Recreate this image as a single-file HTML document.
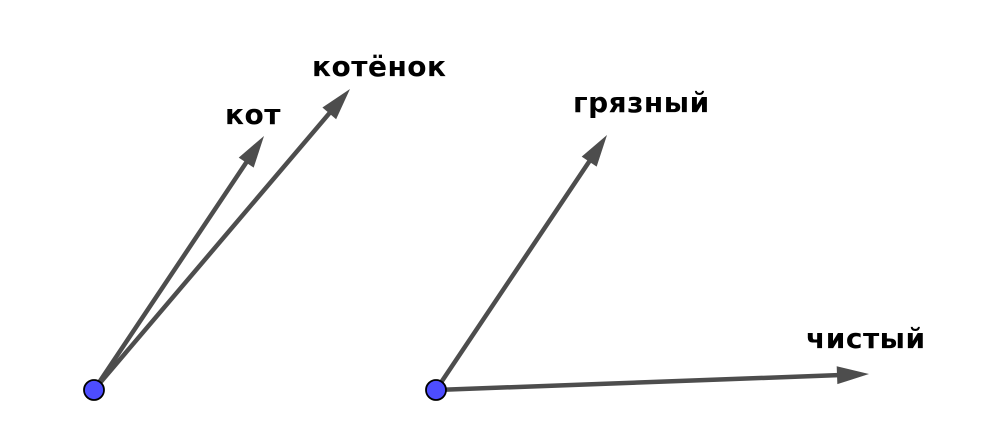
<!DOCTYPE html>
<html><head><meta charset="utf-8"><style>
html,body{margin:0;padding:0;background:#fff;width:1002px;height:434px;overflow:hidden}
svg{display:block}
text{font-family:"DejaVu Sans","Liberation Sans",sans-serif;font-weight:bold;font-size:28px;letter-spacing:0.5px;fill:#000}
</style></head><body>
<svg width="1002" height="434" viewBox="0 0 1002 434">
<g id="vecs"></g>
</svg>
<script>
const vecNames = ["кот","котёнок","грязный","чистый"];
const vecOrigins = [[94,390],[94,390],[436,390],[436,390]];
const vecTips = [[264,136],[350,89],[607,135],[869,374]];
const labelPos = [[225,124],[312,76],[573,112],[806,348]];
const NS="http://www.w3.org/2000/svg";
const g=document.getElementById('vecs');
function mk(t,a){const e=document.createElementNS(NS,t);for(const k in a)e.setAttribute(k,a[k]);return e;}
vecNames.forEach((n,i)=>{
  const [x0,y0]=vecOrigins[i],[x1,y1]=vecTips[i];
  const dx=x1-x0,dy=y1-y0,L=Math.hypot(dx,dy),ux=dx/L,uy=dy/L,px=-uy,py=ux;
  const hl=32,hw=9;
  const bx=x1-ux*hl,by=y1-uy*hl;
  const grp=mk('g',{});
  
  
  const line=mk('line',{x1:x0,y1:y0,x2:bx+ux*4,y2:by+uy*4,stroke:'#4d4d4d','stroke-width':4.5});
  
  
  const head=mk('polygon',{points:`${x1},${y1} ${bx+px*hw},${by+py*hw} ${bx-px*hw},${by-py*hw}`,fill:'#4d4d4d'});
  
  
  const lab=mk('text',{x:labelPos[i][0],y:labelPos[i][1]});
  lab.textContent=n;
  
  
  grp.appendChild(line);grp.appendChild(head);grp.appendChild(lab);
  g.appendChild(grp);
});
const seen={};
vecOrigins.forEach(o=>{
  const k=o.join(',');if(seen[k])return;seen[k]=1;
  const c=mk('circle',{cx:o[0],cy:o[1],r:10,fill:'#4d4dff',stroke:'#000','stroke-width':1.8});
  
  
  g.appendChild(c);
});
</script>
</body></html>
